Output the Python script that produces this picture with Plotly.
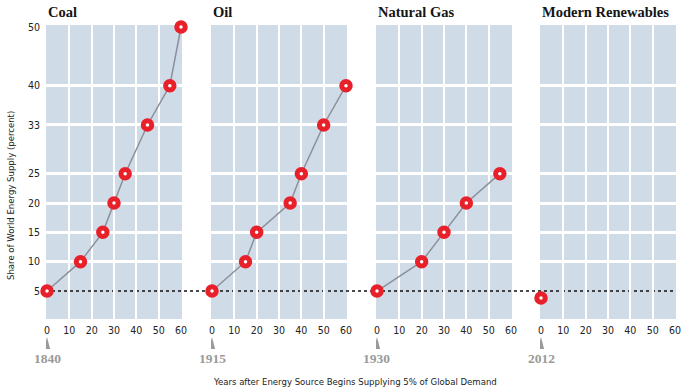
import plotly.graph_objects as go

W, H = 682, 389

titles = ["Coal", "Oil", "Natural Gas", "Modern Renewables"]
start_years = ["1840", "1915", "1930", "2012"]

coal_x = [0, 15, 25, 30, 35, 45, 55, 60]
coal_y = [5, 10, 15, 20, 25, 33.3, 40, 50]
oil_x = [0, 15, 20, 35, 40, 50, 60]
oil_y = [5, 10, 15, 20, 25, 33.3, 40]
gas_x = [0, 20, 30, 40, 55]
gas_y = [5, 10, 15, 20, 25]
ren_x = [0]
ren_y = [3.8]

series = [(coal_x, coal_y), (oil_x, oil_y), (gas_x, gas_y), (ren_x, ren_y)]

y_tickvals = [5, 10, 15, 20, 25, 33.3, 40, 50]
y_ticktext = ["5", "10", "15", "20", "25", "33", "40", "50"]
y_gridvals = [10, 15, 20, 25, 33.3, 40]
x_tickvals = [0, 10, 20, 30, 40, 50, 60]
x_gridvals = [10, 20, 30, 40, 50]

panels_px = [(46, 182), (211, 347), (376, 512), (540, 676)]
top_px, bot_px = 25, 319

BG = "#d0dbe8"
RED = "#e8202a"
LINE = "#8c9099"
SANS = "DejaVu Sans Condensed, Liberation Sans Narrow, Arial Narrow, Liberation Sans, sans-serif"
TICKFONT = dict(family=SANS, size=10.5, color="#222222")
SERIF = "Liberation Serif, DejaVu Serif, serif"

fig = go.Figure()

for i, (xs, ys) in enumerate(series):
    ax = "" if i == 0 else str(i + 1)
    fig.add_trace(go.Scatter(
        x=xs, y=ys, mode="lines+markers",
        xaxis="x" + ax, yaxis="y" + ax,
        line=dict(color=LINE, width=1.5),
        marker=dict(symbol="circle", size=8.5, color="white",
                    line=dict(color=RED, width=5)),
        cliponaxis=False, showlegend=False, hoverinfo="x+y",
    ))

layout = dict(
    width=W, height=H, autosize=False,
    margin=dict(l=0, r=0, t=0, b=0, pad=0),
    paper_bgcolor="white", plot_bgcolor=BG,
    showlegend=False,
)

ydom = [(H - bot_px) / H, (H - top_px) / H]
for i, (l, r) in enumerate(panels_px):
    ax = "" if i == 0 else str(i + 1)
    layout["xaxis" + ax] = dict(
        domain=[l / W, r / W], range=[-0.45, 60.45],
        anchor="y" + ax, tickmode="array", tickvals=x_tickvals,
        showgrid=False, zeroline=False, showline=False, ticks="",
        tickfont=TICKFONT, ticklabelstandoff=3, automargin=False,
        minor=dict(tickmode="array", tickvals=x_gridvals, showgrid=True,
                   gridcolor="white", gridwidth=2.2, ticks=""),
        fixedrange=True,
    )
    layout["yaxis" + ax] = dict(
        domain=ydom, range=[0.23, 50.34],
        anchor="x" + ax, tickmode="array", tickvals=y_tickvals, ticktext=y_ticktext,
        showticklabels=(i == 0), showgrid=False, zeroline=False, showline=False,
        ticks="", tickfont=TICKFONT, ticklabelstandoff=5, automargin=False,
        minor=dict(tickmode="array", tickvals=y_gridvals, showgrid=True,
                   gridcolor="white", gridwidth=2.5, ticks=""),
        fixedrange=True,
    )

shapes = [dict(type="line", xref="paper", yref="y", x0=46 / W, x1=676 / W, y0=5, y1=5,
               line=dict(color="#111111", width=1.5, dash="dot"), layer="below")]
annotations = []
for i, (l, r) in enumerate(panels_px):
    ax = "" if i == 0 else str(i + 1)
    annotations.append(dict(text="<b>%s</b>" % titles[i], xref="paper", yref="paper",
                            x=l / W, y=(H - 12) / H, xanchor="left", yanchor="middle",
                            showarrow=False, font=dict(family=SERIF, size=14.5, color="#151515")))
    shapes.append(dict(type="path", xref="x" + ax, yref="paper",
                       path="M -1.4,%f L 1.4,%f L 0,%f Z" % ((H - 349) / H, (H - 349) / H, (H - 337) / H),
                       fillcolor="#9a9a9a", line=dict(width=0)))
    annotations.append(dict(text="<b>%s</b>" % start_years[i], xref="x" + ax, yref="paper",
                            x=0, y=(H - 358) / H, xanchor="center", yanchor="middle",
                            showarrow=False, font=dict(family=SERIF, size=13.5, color="#9a9a9a")))

annotations.append(dict(text="Share of World Energy Supply (percent)", xref="paper", yref="paper",
                        x=10 / W, y=(H - 196) / H, textangle=-90, xanchor="center", yanchor="middle",
                        showarrow=False, font=dict(family=SANS, size=9.5, color="#222222")))
annotations.append(dict(text="Years after Energy Source Begins Supplying 5% of Global Demand",
                        xref="paper", yref="paper", x=355 / W, y=(H - 381) / H,
                        xanchor="center", yanchor="middle", showarrow=False,
                        font=dict(family=SANS, size=9.5, color="#222222")))

layout["shapes"] = shapes
layout["annotations"] = annotations
fig.update_layout(**layout)

fig.write_html("out.html", config={"displayModeBar": False},
               post_script="document.body.style.margin='0px';document.body.style.overflow='hidden';")
